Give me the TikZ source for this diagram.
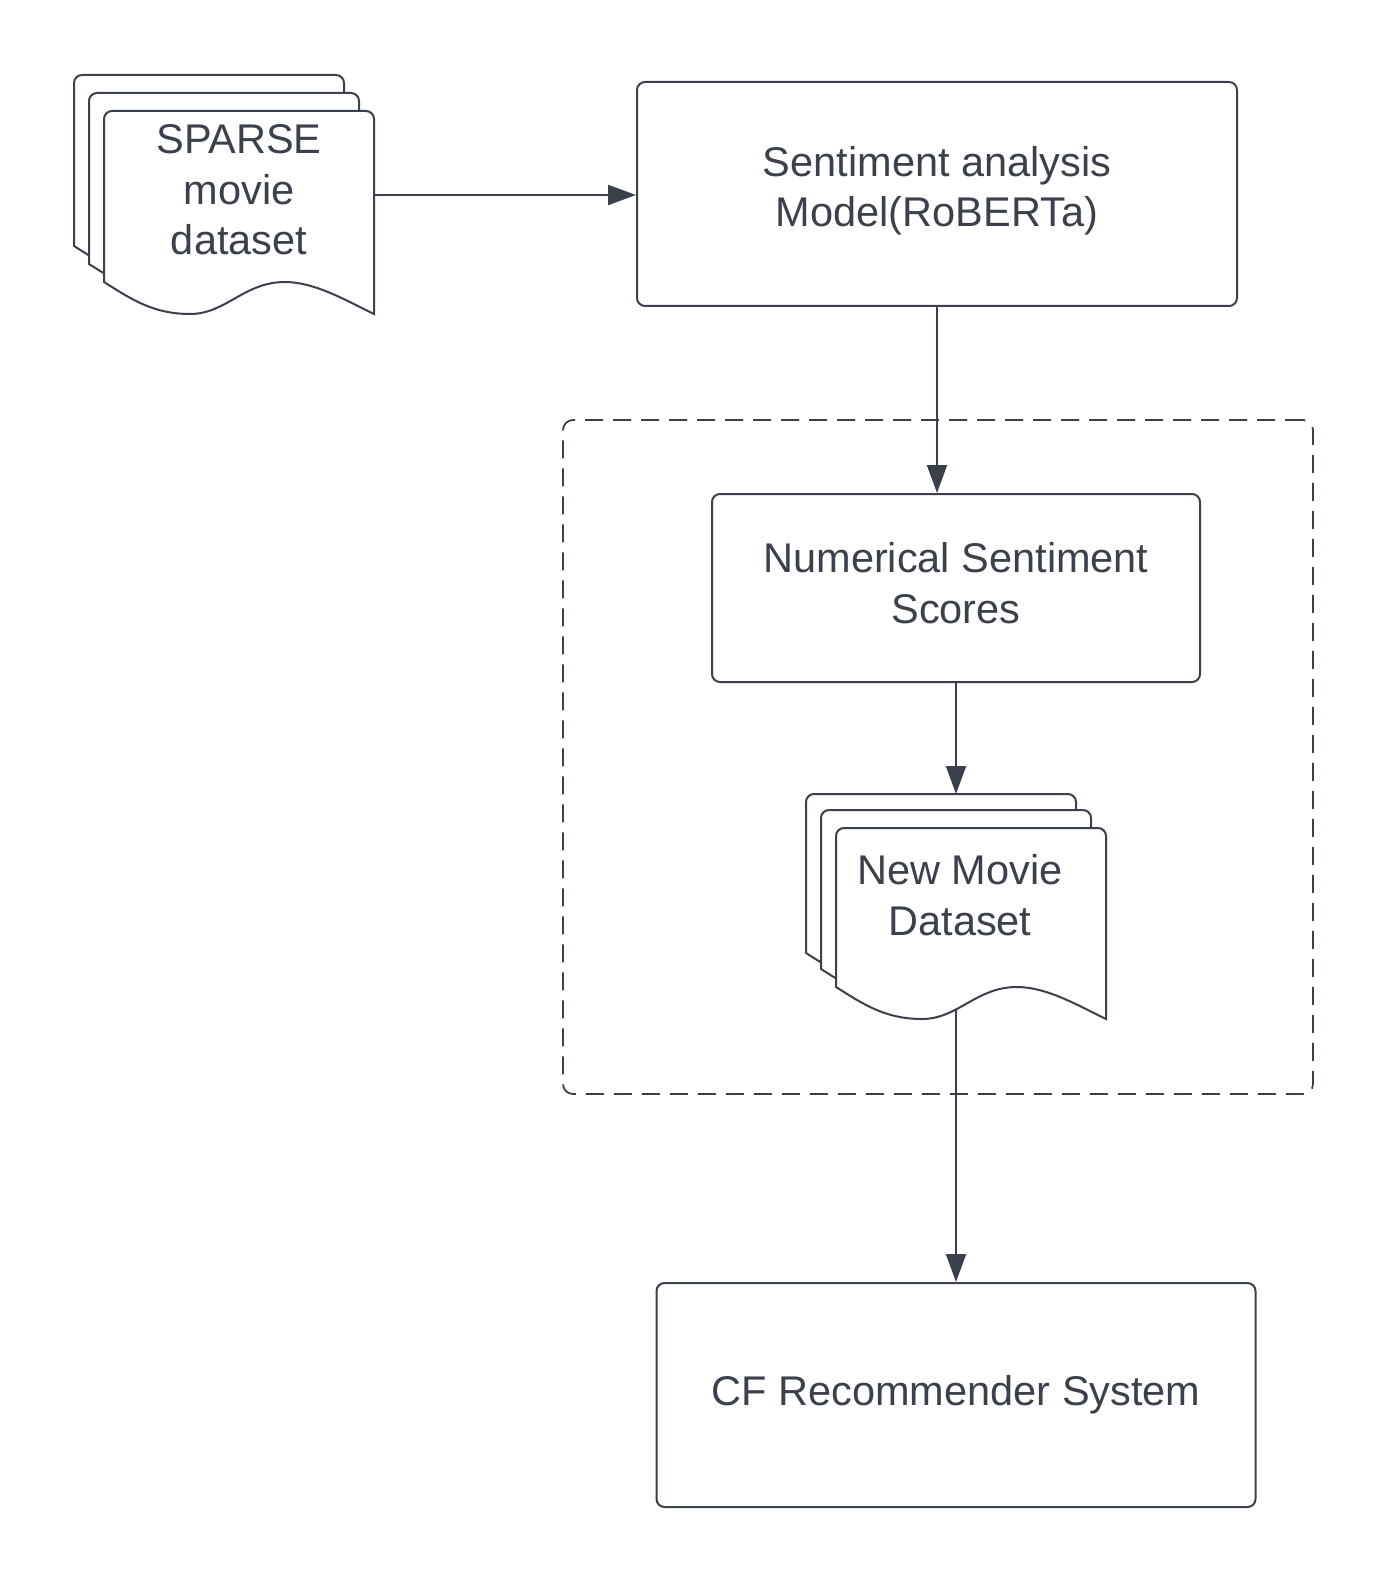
\documentclass[tikz,border=0pt]{standalone}
\usepackage{fontspec}
\setmainfont{Liberation Sans}
\usetikzlibrary{arrows.meta}
\definecolor{ink}{HTML}{3A414A}
\tikzset{
  label font/.style={font=\fontsize{20.75pt}{25.25pt}\selectfont, text=ink, align=center},
  procbox/.style={draw=ink, line width=1pt, rounded corners=4pt, fill=white, inner sep=0},
  groupbox/.style={draw=ink, line width=0.9pt, rounded corners=5pt, dash pattern=on 9pt off 5pt, inner sep=0},
  sheet/.style={draw=ink, line width=1pt, fill=white},
  doctext/.style={inner sep=0, label font},
  flow/.style={draw=ink, line width=1pt, -{Triangle[length=14pt,width=10pt]}}
}

\begin{document}
\begin{tikzpicture}[x=0.5pt, y=-0.5pt]
    \useasboundingbox (0,0) rectangle (1388,1583);
    % dashed group round the scores and the new dataset
    \node[groupbox, minimum width=375pt, minimum height=337pt] (group) at (938,757) {};
    % stacked document sheets, back to front
    \foreach \x/\y/\h in {74/75/203, 89/93/203, 104/111/203, 806/794/191, 821/810/191, 836/828/191}
        \draw[sheet] (\x,\y+\h-32) [rounded corners=4pt] -- (\x,\y) -- (\x+270,\y) [sharp corners] -- (\x+270,\y+\h)
            .. controls (\x+243,\y+\h-13) and (\x+211,\y+\h-32) .. (\x+181,\y+\h-32)
            .. controls (\x+140,\y+\h-32) and (\x+122,\y+\h) .. (\x+86,\y+\h)
            .. controls (\x+49,\y+\h) and (\x+27,\y+\h-15) .. (\x,\y+\h-32) -- cycle;
    \node[doctext] (sparse) at (239,190) {SPARSE\\movie\\dataset};
    \node[doctext] (newdata) at (960,895) {New Movie\\Dataset};
    \coordinate (sparseout) at (375,195);
    \coordinate (newdatain) at (956,794);
    \coordinate (newdataout) at (956,1010);
    % process boxes
    \node[procbox, minimum width=300pt, minimum height=112pt] (sent) at (937,194) {};
    \node[doctext, yshift=1.5pt] (senttext) at (sent.center) {Sentiment analysis\\Model(RoBERTa)};
    \node[procbox, minimum width=244pt, minimum height=94pt] (scores) at (956,588) {};
    \node[doctext, yshift=2.3pt] (scorestext) at (scores.center) {Numerical Sentiment\\Scores};
    \node[procbox, minimum width=299.5pt, minimum height=112pt] (cf) at (956,1395) {};
    \node[doctext] (cftext) at (cf.center) {CF Recommender System};
    % connectors
    \draw[flow] (sparseout) -- (sparseout -| sent.west);
    \draw[flow] (sent.south) -- (sent.south |- scores.north);
    \draw[flow] (scores.south) -- (newdatain);
    \draw[flow] (newdataout) -- (cf.north);
\end{tikzpicture}
\end{document}
